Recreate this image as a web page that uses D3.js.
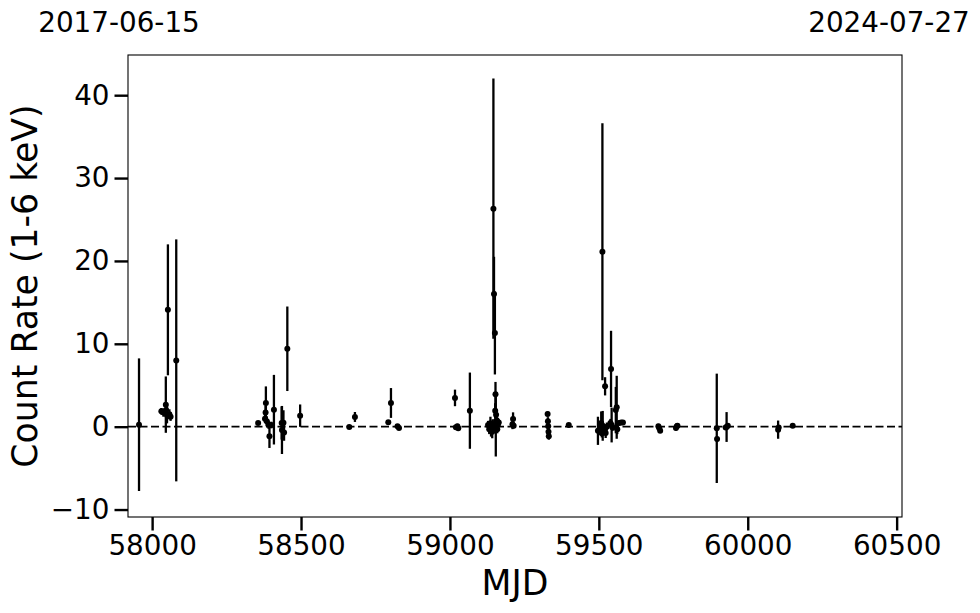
<!DOCTYPE html>
<html>
<head>
<meta charset="utf-8">
<script src="https://cdn.jsdelivr.net/npm/d3@7"></script>
<style>
  html, body { margin: 0; padding: 0; background: #fff; }
  svg { display: block; }
  text { font-family: "DejaVu Sans", sans-serif; fill: #000; }
</style>
</head>
<body>
<svg id="chart" width="980" height="613"></svg>
<script>
// ---- Data ----
const mjd = [
  57956, 58031, 58038, 58046, 58047, 58050, 58053, 58058, 58062, 58081,
  58356, 58379, 58381, 58382, 58385, 58391, 58394, 58400, 58409, 58435, 58436, 58441, 58443, 58454, 58497,
  58662, 58681, 58793, 58802, 58824, 58829,
  59017, 59020, 59025, 59028, 59067,
  59128, 59132, 59136, 59138, 59140, 59142, 59144, 59146, 59148, 59150, 59151, 59152, 59153, 59154, 59155, 59157, 59159, 59161, 59164,
  59210, 59212, 59214,
  59328, 59329, 59330, 59331, 59332, 59399,
  59497, 59504, 59508, 59510, 59512, 59513, 59518, 59521, 59523, 59527, 59539, 59541, 59543, 59546, 59557, 59560, 59562, 59568, 59575, 59581,
  59700, 59703, 59706, 59759, 59762, 59764,
  59896, 59897, 59926, 59929, 59933,
  60102, 60104, 60151
];
const rate = [
  0.24, 1.85, 1.7, 2.66, 2.0, 1.4, 14.1, 1.5, 1.2, 8.0,
  0.44, 0.97, 1.7, 2.86, 0.65, 0.24, -1.17, 0.2, 2.05, 0.44, -0.4, 0.48, -0.7, 9.4, 1.33,
  -0.04, 1.17, 0.52, 2.86, 0.05, -0.16,
  3.47, -0.08, 0.04, -0.2, 1.93,
  0.2, -0.3, 0.4, -0.5, 0.1, -0.6, 0.3, 26.3, 16.0, 0.0, 11.3, 1.93, 3.9, 0.3, 1.45, 0.76, -0.3, 0.2, 0.5,
  0.3, 0.93, 0.1,
  1.53, 0.65, 0.04, -0.6, -1.17, 0.2,
  -0.5, -0.36, 0.44, -0.8, 21.1, 0.1, -0.36, 4.87, -0.77, 0.0, 0.44, 6.97, 0.2, -0.1, 2.0, 2.34, -0.3, 0.44, 0.5, 0.5,
  0.04, -0.2, -0.5, -0.16, 0.05, 0.1,
  -0.2, -1.5, -0.1, -0.04, 0.1,
  -0.36, -0.1, 0.12
];
const rateErr = [
  8.0, 0.4, 0.5, 3.4, 0.8, 1.0, 7.9, 0.6, 0.5, 14.6,
  0.2, 0.5, 0.8, 2.0, 0.6, 0.5, 1.4, 0.4, 4.2, 2.0, 2.9, 1.5, 1.0, 5.1, 1.35,
  0.1, 0.6, 0.2, 1.8, 0.2, 0.2,
  1.0, 0.2, 0.3, 0.2, 4.6,
  0.5, 0.6, 0.8, 0.7, 0.4, 0.8, 0.6, 15.7, 4.5, 0.5, 5.0, 0.9, 1.5, 3.9, 0.6, 0.5, 0.5, 0.4, 0.4,
  0.6, 0.8, 0.3,
  0.3, 0.5, 0.3, 0.4, 0.4, 0.2,
  1.7, 0.6, 1.4, 0.5, 15.5, 1.8, 0.5, 1.1, 0.6, 0.5, 0.5, 4.6, 2.1, 0.4, 2.8, 3.8, 0.6, 0.3, 0.3, 0.3,
  0.3, 0.3, 0.2, 0.3, 0.3, 0.2,
  6.6, 0.3, 0.3, 1.8, 0.3,
  1.1, 0.3, 0.2
];
const xTicks = [58000, 58500, 59000, 59500, 60000, 60500];
const yTicks = [-10, 0, 10, 20, 30, 40];
const topDates = ["2017-06-15", "2024-07-27"];
const xLabel = "MJD";
const yLabel = "Count Rate (1-6 keV)";

// ---- Layout ----
const m = { left: 128, right: 902, top: 55, bottom: 517 };
const svg = d3.select("#chart");

const x = d3.scaleLinear().domain([57919, 60518]).range([m.left, m.right]);
const y = d3.scaleLinear().domain([-10.9, 44.85]).range([m.bottom, m.top]);

const points = mjd.map((d, i) => ({ t: d, v: rate[i], e: rateErr[i] }));

// zero dashed line
svg.append("line")
  .attr("x1", m.left).attr("x2", m.right)
  .attr("y1", y(0)).attr("y2", y(0))
  .attr("stroke", "#000").attr("stroke-width", 1.7)
  .attr("stroke-dasharray", "8,3.5");

// error bars
const g = svg.append("g");
g.selectAll("line.err").data(points).enter().append("line")
  .attr("class", "err")
  .attr("x1", d => x(d.t)).attr("x2", d => x(d.t))
  .attr("y1", d => y(d.v - d.e)).attr("y2", d => y(d.v + d.e))
  .attr("stroke", "#000").attr("stroke-width", 2.3);
g.selectAll("circle").data(points).enter().append("circle")
  .attr("cx", d => x(d.t)).attr("cy", d => y(d.v))
  .attr("r", 3).attr("fill", "#000");

// frame
svg.append("rect")
  .attr("x", m.left).attr("y", m.top)
  .attr("width", m.right - m.left).attr("height", m.bottom - m.top)
  .attr("fill", "none").attr("stroke", "#000").attr("stroke-width", 1.1);

// axes
const xAxis = d3.axisBottom(x).tickValues(xTicks).tickFormat(d3.format("d"))
  .tickSizeInner(13.5).tickSizeOuter(0).tickPadding(5);
const gx = svg.append("g").attr("transform", `translate(0,${m.bottom})`).call(xAxis);
gx.select(".domain").remove();
gx.selectAll(".tick line").attr("stroke", "#000").attr("stroke-width", 2.4);
gx.selectAll(".tick text").attr("font-size", "27.8px").attr("font-family", "DejaVu Sans").attr("fill", "#000");

const yAxis = d3.axisLeft(y).tickValues(yTicks).tickFormat(d => d < 0 ? "\u2212" + Math.abs(d) : d)
  .tickSizeInner(13.5).tickSizeOuter(0).tickPadding(5);
const gy = svg.append("g").attr("transform", `translate(${m.left},0)`).call(yAxis);
gy.select(".domain").remove();
gy.selectAll(".tick line").attr("stroke", "#000").attr("stroke-width", 2.4);
gy.selectAll(".tick text").attr("font-size", "27.8px").attr("font-family", "DejaVu Sans").attr("fill", "#000");

// axis labels
svg.append("text").attr("x", (m.left + m.right) / 2).attr("y", 595)
  .attr("text-anchor", "middle").attr("font-size", "34.7px").text(xLabel);
svg.append("text")
  .attr("transform", `translate(37,${(m.top + m.bottom) / 2}) rotate(-90)`)
  .attr("text-anchor", "middle").attr("font-size", "34.7px").text(yLabel);

// top date labels
svg.append("text").attr("x", 119).attr("y", 32).attr("text-anchor", "middle")
  .attr("font-size", "27.8px").text(topDates[0]);
svg.append("text").attr("x", 889).attr("y", 32).attr("text-anchor", "middle")
  .attr("font-size", "27.8px").text(topDates[1]);
</script>
</body>
</html>
